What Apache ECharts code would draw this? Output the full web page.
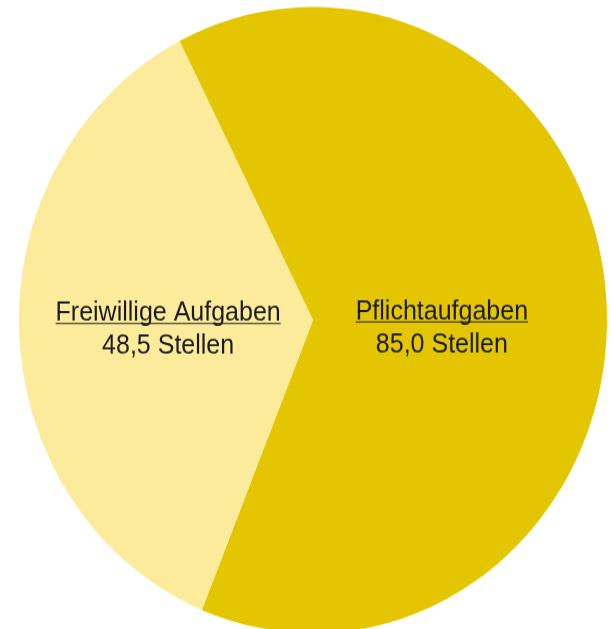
<!DOCTYPE html>
<html>
<head>
<meta charset="utf-8">
<script src="https://cdn.jsdelivr.net/npm/echarts@6.0.0/dist/echarts.min.js"></script>
<style>
  html { overflow: hidden; }
  body { margin: 0; padding: 0; background: #fff; }
  /* the reference pie is slightly taller than wide, so stretch vertically */
  #chart { width: 613px; height: 629px; transform: scaleY(1.065); transform-origin: 0 0; }
</style>
</head>
<body>
<div id="chart"></div>
<script>
const categories = ['Pflichtaufgaben', 'Freiwillige Aufgaben'];
const values = [85.0, 48.5];
const unit = 'Stellen';
const colors = ['#E4C600', '#FDEB9C'];
const labelShift = [[-21, 20], [5, 9]];

const chart = echarts.init(document.getElementById('chart'));
chart.setOption({
  animation: false,
  series: [{
    type: 'pie',
    center: [313, 300.5],
    radius: 294,
    startAngle: 117,
    clockwise: true,
    data: categories.map((name, i) => ({
      name: name,
      value: values[i],
      itemStyle: { color: colors[i] }
    })),
    itemStyle: { borderWidth: 0 },
    emphasis: { disabled: true },
    label: {
      position: 'inside',
      formatter: p => '{t|' + p.name + '}\n{hr|}\n{v|' + p.value.toFixed(1).replace('.', ',') + ' ' + unit + '}',
      rich: {
        t: { fontFamily: 'Liberation Sans', fontSize: 25, color: '#1a1a1a', lineHeight: 15, align: 'center' },
        hr: { width: '100%', height: 0, borderColor: '#1a1a1a', borderWidth: 1.2, lineHeight: 4, align: 'left' },
        v: { fontFamily: 'Liberation Sans', fontSize: 25, color: '#1a1a1a', lineHeight: 39, align: 'center' }
      }
    },
    labelLine: { show: false },
    labelLayout: p => ({ dx: labelShift[p.dataIndex][0], dy: labelShift[p.dataIndex][1] })
  }]
});
window.addEventListener('resize', () => chart.resize());
</script>
</body>
</html>
